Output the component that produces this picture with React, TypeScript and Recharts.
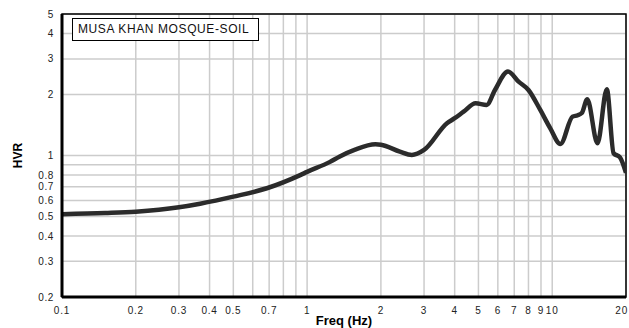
import { CartesianGrid, Line, LineChart, ReferenceArea, XAxis, YAxis } from "recharts";

const freq = [
  0.1, 0.15, 0.2, 0.3, 0.366, 0.5, 0.685, 0.937, 1.0, 1.24, 1.36, 1.57, 1.9, 2.0, 2.39, 2.675, 3.0,
  3.72, 4.0, 4.35, 4.87, 5.4, 5.84, 6.6, 7.29, 8.0, 8.94, 9.82, 10.8, 12.1, 12.7, 13.2, 13.9, 15.3,
  16.7, 17.8, 18.9, 20,
];
const hvr = [
  0.513, 0.52, 0.528, 0.555, 0.578, 0.626, 0.689, 0.8, 0.83, 0.93, 0.99, 1.07, 1.136, 1.13,
  1.045, 1.006, 1.065, 1.443, 1.528, 1.646, 1.811, 1.777, 2.107, 2.6, 2.317, 2.107, 1.679, 1.363, 1.14,
  1.556, 1.58, 1.62, 1.896, 1.149, 2.125, 1.026, 0.98, 0.82,
];

const xTicks = [0.1, 0.2, 0.3, 0.4, 0.5, 0.6, 0.7, 0.8, 0.9, 1, 2, 3, 4, 5, 6, 7, 8, 9, 10, 20];
const xHidden = [0.6, 0.8, 0.9];
const yTicks = [0.2, 0.3, 0.4, 0.5, 0.6, 0.7, 0.8, 0.9, 1, 2, 3, 4, 5];
const yHidden = [0.9];

const data = freq.map((f, i) => ({ f, v: hvr[i] }));

const font = "'Liberation Sans', Arial, sans-serif";

function XTick(props: any) {
  const { x, y, payload } = props;
  const v = payload.value as number;
  if (xHidden.includes(v)) return null;
  const last = v === 20;
  return (
    <text
      x={last ? x + 2 : x}
      y={y + 9}
      textAnchor={last ? "end" : "middle"}
      fontSize={10}
      letterSpacing={0.8}
      fill="#222"
      fontFamily={font}
    >
      {String(v)}
    </text>
  );
}

function YTick(props: any) {
  const { x, y, payload } = props;
  const v = payload.value as number;
  if (yHidden.includes(v)) return null;
  return (
    <text x={x} y={y + 3.5} textAnchor="end" fontSize={10} letterSpacing={0.6} fill="#222" fontFamily={font}>
      {String(v)}
    </text>
  );
}

export default function App() {
  return (
    <div style={{ position: "absolute", left: 0, top: 0, width: 629, height: 328, background: "#fff" }}>
      <LineChart width={629} height={328} data={data} margin={{ top: 14, right: 3, bottom: 11, left: 12 }}>
        <CartesianGrid stroke="#cccccc" strokeWidth={1.5} />
        <XAxis
          dataKey="f"
          type="number"
          scale="log"
          domain={[0.1, 20]}
          ticks={xTicks}
          allowDataOverflow
          tickLine={false}
          axisLine={{ stroke: "#000", strokeWidth: 3 }}
          tick={<XTick />}
          height={20}
          interval={0}
          label={{
            value: "Freq (Hz)",
            position: "insideBottom",
            offset: -8,
            style: { fontSize: 13, fontWeight: "bold", fill: "#000", fontFamily: font },
          }}
        />
        <YAxis
          type="number"
          scale="log"
          domain={[0.2, 5]}
          ticks={yTicks}
          allowDataOverflow
          tickLine={false}
          axisLine={{ stroke: "#000", strokeWidth: 3 }}
          tick={<YTick />}
          width={50}
          interval={0}
          label={{
            value: "HVR",
            angle: -90,
            position: "insideLeft",
            offset: 6,
            style: { fontSize: 12, fontWeight: "bold", fill: "#000", fontFamily: font, textAnchor: "middle" },
          }}
        />
        <ReferenceArea x1={0.1} x2={20} y1={0.2} y2={5} fill="none" stroke="#000" strokeWidth={1.5} ifOverflow="visible" />
        <Line
          type="monotone"
          dataKey="v"
          stroke="#2b2b2b"
          strokeWidth={4.5}
          dot={false}
          isAnimationActive={false}
        />
      </LineChart>
      <div
        style={{
          position: "absolute",
          left: 72,
          top: 18,
          width: 180,
          height: 21,
          border: "1.5px solid #000",
          background: "#fff",
          fontFamily: font,
          fontSize: 12,
          letterSpacing: 0.6,
          lineHeight: "21px",
          paddingLeft: 5,
          boxSizing: "content-box",
          color: "#111",
          whiteSpace: "nowrap",
        }}
      >
        MUSA KHAN MOSQUE-SOIL
      </div>
    </div>
  );
}
